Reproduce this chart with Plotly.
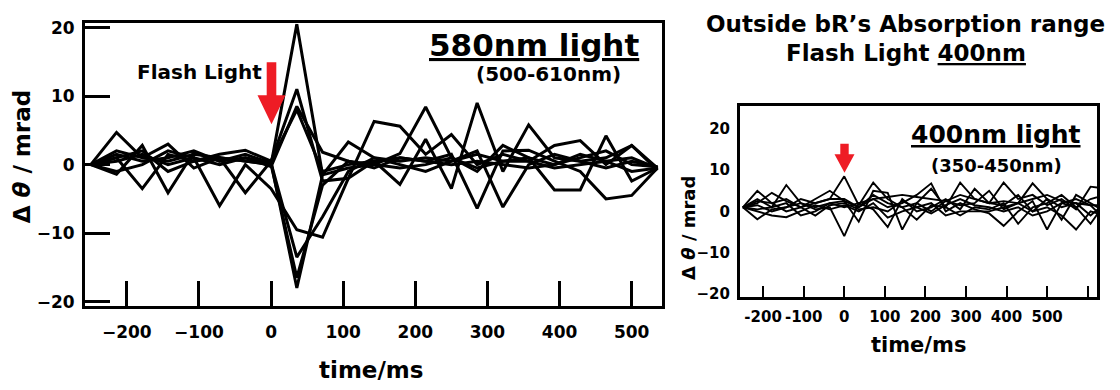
import plotly.graph_objects as go

W, H = 1120, 390
FONT = "DejaVu Sans"

# ---------------- data ----------------
time_left = [-250, -214.3, -178.6, -142.9, -107.1, -71.4, -35.7, 0, 35.7, 71.4, 107.1,
             142.9, 178.6, 214.3, 250, 285.7, 321.4, 357.1, 392.9, 428.6, 464.3, 500, 535.7]

left_A = [0, 4.7, 1.0, 0.5, 1.5, 1.0, 0.5, 0.0, 20.5, -1.5, 3.3, 1.0, 0.5, 1.0, 0.5, 1.5, 0.5, 1.0, 0.0, 1.5, 0.5, 1.0, -0.5]
left_B = [0, 1.0, -3.5, 1.5, 0.5, 1.5, 2.1, 0.5, 11.0, -2.4, -2.0, 6.3, 5.6, 1.5, 4.4, 0.0, 1.5, 0.5, 2.8, 3.5, 0.0, 2.8, -0.5]
left_C = [0, -1.4, 2.8, -4.1, 1.8, 0.5, 1.0, -0.3, 8.5, 1.8, 0.5, 0.0, 1.6, 8.4, 1.0, -1.0, 2.8, 1.0, -3.7, -3.7, 4.2, -2.4, -0.5]
left_D = [0, 2.0, 1.0, 3.0, -0.5, 1.0, -4.1, 0.5, 8.0, -1.0, 0.0, 0.5, -2.9, 3.7, -3.5, 9.0, -1.0, 5.8, 1.0, 0.5, -0.5, 0.5, -0.3]
left_E = [0, 0.5, 1.5, 0.0, 1.0, -6.0, 0.0, -3.5, -9.5, -10.6, -2.0, 0.5, 1.0, 0.5, 1.5, -6.4, 2.0, 2.1, 0.5, -1.0, -5.0, -4.5, -0.5]
left_F = [0, 1.5, 0.5, 1.0, 2.0, 0.5, 1.5, 0.2, -13.5, -7.6, -1.0, 1.0, 0.0, -1.0, 0.5, 2.0, -6.2, 0.0, 1.5, 0.5, 1.0, 2.8, -0.8]
left_G = [0, 1.0, 2.0, -1.0, 0.5, 1.0, 0.5, 0.0, -16.5, -3.0, 0.5, -0.5, 1.0, 0.5, 0.0, 0.5, 0.0, -0.5, 0.0, 1.0, 2.0, 0.0, -0.3]
left_H = [0, -1.0, 0.0, 2.0, 1.0, 0.0, 1.0, 0.3, -18.0, -1.5, -0.5, 0.0, -0.5, 0.0, 1.0, -0.5, 0.5, 0.5, -0.5, 0.0, 0.5, -1.0, -0.5]

time_right = [-250, -214.3, -178.6, -142.9, -107.1, -71.4, -35.7, 0, 35.7, 71.4, 107.1,
              142.9, 178.6, 214.3, 250, 285.7, 321.4, 357.1, 392.9, 428.6, 464.3, 500, 535.7,
              571.4, 607.1, 642.9]

right_1 = [1, 5.0, 2, 3, 1, 2, 3, 8.5, 1.5, 7.0, 3, 1, 2, 5.5, 1, 7, 3, 2, 7, 3, 4, 1.5, 3, 0.5, 6.0, 5.5]
right_2 = [1, -1.9, 0.5, 1, 2, 0.5, 1, -6.0, 2, 0.5, -3.8, 3, 0, 1, 3, 0.5, 5.5, 2, 1.5, 4, 0, 3, 1, 2, -1, 2]
right_3 = [1, 2, 4.5, 2.5, 1, 3, 5, 2.5, -2.5, 5, 4.5, -4.4, 2, 0, 2.5, 1.5, 2, 5, 0.5, 2, 6.8, 3, -2, 4, 2, 0]
right_4 = [1, 3, 1, 6.4, 2, 1, 2, 1, 2, 3, 1, 2, 4, 6.8, 0, 2, 0.5, -0.5, -3.5, 0, 2.5, -4.4, 2, 1, 3, 4]
right_5 = [1, 0, -1, -1.4, 0, 1.5, 0.5, 1.5, 0, 2, -1.5, 0, 1, 2, -1, 0, 0, 0, 1, 2, 0, 1, -1, -4.4, 0, -1]
right_6 = [1, 1.5, 0, 1, 3, 2, 3, 3, 1, 4, 2, 1, -2, 1.5, 1, -1, 1, 0.5, 2, -3.0, 1, 2, 4, 1, -3, 2]
right_7 = [1, 2.5, 2, 0, 1, -1, 1.5, 2, 0.5, 1, 0, 2.5, 1, -0.5, 1.5, 3, 1.5, 1, 0, 1, -1, 0, 2, 3, 1.5, -2]
right_8 = [1, 0.5, 1, 2, -1, 0, 2, 2.5, 1, 3, 3.5, 4, 3.5, 3, 2.5, 4, 3, 2, 2.5, 2, 3, 4, 2.5, 2, 1.5, 1.5]

left_series = [left_A, left_B, left_C, left_D, left_E, left_F, left_G, left_H]
right_series = [right_1, right_2, right_3, right_4, right_5, right_6, right_7, right_8]

left_xticks = [-200, -100, 0, 100, 200, 300, 400, 500]
left_yticks = [-20, -10, 0, 10, 20]
right_xticks = [-200, -100, 0, 100, 200, 300, 400, 500, 600]
right_xticklabels = ["-200", "-100", "0", "100", "200", "300", "400", "500", ""]
right_yticks = [-20, -10, 0, 10, 20]

# ---------------- helpers ----------------
def px(x):
    return x / W

def py(y):
    return 1 - y / H

fig = go.Figure()
for s in left_series:
    fig.add_trace(go.Scatter(x=time_left, y=s, mode="lines", xaxis="x", yaxis="y",
                             line=dict(color="black", width=3), showlegend=False,
                             hoverinfo="skip"))
for s in right_series:
    fig.add_trace(go.Scatter(x=time_right, y=s, mode="lines", xaxis="x2", yaxis="y2",
                             line=dict(color="black", width=1.9), showlegend=False,
                             hoverinfo="skip"))

tickfont_l = dict(family=FONT, size=17, color="black", weight="bold")
tickfont_r = dict(family=FONT, size=15, color="black", weight="bold")

fig.update_layout(
    width=W, height=H,
    margin=dict(l=0, r=0, t=0, b=0),
    paper_bgcolor="white", plot_bgcolor="white",
    xaxis=dict(domain=[px(85), px(662)], range=[-258, 542], tickvals=left_xticks,
               ticks="inside", ticklen=25, tickwidth=2.5, tickcolor="black",
               showline=True, linewidth=3, linecolor="black", mirror=True,
               showgrid=False, zeroline=False, tickfont=tickfont_l, anchor="y",
               ticklabelstandoff=8, tickangle=0),
    yaxis=dict(domain=[py(310), py(18)], range=[-20.7, 20.6], tickvals=left_yticks,
               ticks="inside", ticklen=25, tickwidth=2.5, tickcolor="black",
               showline=True, linewidth=3, linecolor="black", mirror=True,
               showgrid=False, zeroline=False, tickfont=tickfont_l, anchor="x",
               ticklabelstandoff=4),
    xaxis2=dict(domain=[px(740), px(1097)], range=[-257, 623], tickvals=right_xticks,
                ticktext=right_xticklabels, tickangle=0,
                ticks="inside", ticklen=11, tickwidth=2, tickcolor="black",
                showline=True, linewidth=3, linecolor="black", mirror=True,
                showgrid=False, zeroline=False, tickfont=tickfont_r, anchor="y2",
                ticklabelstandoff=4),
    yaxis2=dict(domain=[py(300), py(103)], range=[-20.7, 25.6], tickvals=right_yticks,
                ticks="", showline=True, linewidth=3, linecolor="black", mirror=True,
                showgrid=False, zeroline=False, tickfont=tickfont_r, anchor="x2",
                ticklabelstandoff=4),
)

def txt(x, y, text, size, xanchor="center", yanchor="middle", angle=0):
    fig.add_annotation(x=px(x), y=py(y), xref="paper", yref="paper", text=text,
                       showarrow=False, xanchor=xanchor, yanchor=yanchor, textangle=angle,
                       font=dict(family=FONT, size=size, color="black", weight="bold"))

# left panel texts
txt(22, 156, "Δ <i>θ</i> / mrad", 23, angle=-90)
txt(371, 376, "time/ms", 23)
txt(199, 68, "Flash Light", 20)
txt(534, 40, "<u>580nm light</u>", 31)
txt(548, 70, "(500-610nm)", 20)

# right panel texts
txt(905, 19, "Outside bR’s Absorption range", 23)
txt(906, 49, "Flash Light <u>400nm</u>", 23)
txt(996, 133, "<u>400nm light</u>", 25)
txt(997, 165, "(350-450nm)", 18)
txt(689, 229, "Δ <i>θ</i> / mrad", 18, angle=-90)
txt(918, 350, "time/ms", 21)

# red arrows
def arrow(cx, top, neck, tip, shaft_half, head_half):
    path = (f"M {px(cx - shaft_half)},{py(top)} L {px(cx + shaft_half)},{py(top)} "
            f"L {px(cx + shaft_half)},{py(neck)} L {px(cx + head_half)},{py(neck)} "
            f"L {px(cx)},{py(tip)} L {px(cx - head_half)},{py(neck)} "
            f"L {px(cx - shaft_half)},{py(neck)} Z")
    fig.add_shape(type="path", path=path, xref="paper", yref="paper",
                  fillcolor="#ee1c25", line=dict(width=0))

arrow(271.5, 58, 92, 122, 4.8, 14)
arrow(844.5, 142, 153, 172, 4.2, 10)

fig.write_html("out.html")
